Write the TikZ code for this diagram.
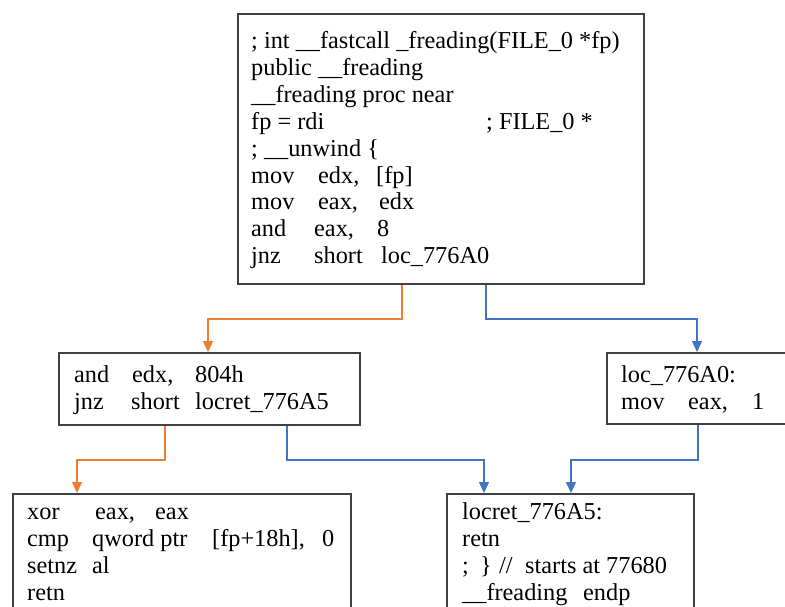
\documentclass[tikz,border=0pt]{standalone}
\usepackage{fontspec}
\setmainfont{Liberation Serif}
\usetikzlibrary{arrows.meta,calc}

\definecolor{boxline}{HTML}{404040}
\definecolor{brorange}{HTML}{ED7D31}
\definecolor{brblue}{HTML}{4472C4}

% a left-aligned column of fixed width inside one code line
\newcommand\cw[2]{\makebox[#1pt][l]{#2}}

\tikzset{
  x=1pt, y=-1pt,
  block/.style={draw=boxline, line width=1.8pt, anchor=north west, inner sep=0pt},
  code/.style={anchor=base west, inner sep=0pt, font=\fontsize{24.3}{26.8}\selectfont},
  flowline/.style={line width=1.4pt, -{Triangle[width=10pt,length=11pt]}},
  taken/.style={flowline, draw=brblue},
  fall/.style={flowline, draw=brorange},
}

\begin{document}
\begin{tikzpicture}
\useasboundingbox[fill=white] (0,0) rectangle (785,607);

% ---- basic blocks ----
\node[block, minimum width=406pt, minimum height=270pt] (top) at (237,13) {};
\node[block, minimum width=301pt, minimum height=72pt]  (left) at (58,352) {};
\node[block, minimum width=190pt, minimum height=71pt]  (right) at (606,352) {};
\node[block, minimum width=338pt, minimum height=130pt] (ret0) at (12,493) {};
\node[block, minimum width=247pt, minimum height=130pt] (ret) at (446,493) {};

% ---- code of the entry block ----
\node[code] (t1) at (251,49)    {; int \_\_fastcall \_freading(FILE\_0 *fp)};
\node[code] (t2) at (251,75.8)  {public \_\_freading};
\node[code] (t3) at (251,102.6) {\_\_freading proc near};
\node[code] (t4) at (251,129.4) {\cw{235}{fp = rdi}; FILE\_0 *};
\node[code] (t5) at (251,156.2) {; \_\_unwind \{};
\node[code] (t6) at (251,183)   {\cw{67}{mov}\cw{58}{edx,}[fp]};
\node[code] (t7) at (251,209.8) {\cw{67}{mov}\cw{61}{eax,}edx};
\node[code] (t8) at (251,236.6) {\cw{63}{and}\cw{63}{eax,}8};
\node[code] (t9) at (251,263.4) {\cw{63}{jnz}\cw{67}{short}loc\_776A0};

% ---- second-level blocks ----
\node[code] (l1) at (74,382) {\cw{58}{and}\cw{63}{edx,}804h};
\node[code] (l2) at (74,409) {\cw{57}{jnz}\cw{64}{short}locret\_776A5};

\node[code] (r1) at (621,382) {loc\_776A0:};
\node[code] (r2) at (621,409) {\cw{67}{mov}\cw{64}{eax,}1};

% ---- return blocks ----
\node[code] (b1) at (27,519) {\cw{68}{xor}\cw{60}{eax,}eax};
\node[code] (b2) at (27,546) {\cw{65}{cmp}\cw{120}{qword ptr}\cw{110}{[fp+18h],}0};
\node[code] (b3) at (27,573) {\cw{65}{setnz}al};
\node[code] (b4) at (27,600) {retn};

\node[code] (c1) at (462,519) {locret\_776A5:};
\node[code] (c2) at (462,546) {retn};
\node[code] (c3) at (462,573) {\cw{18}{;}\cw{19}{\}}\cw{26}{//}starts at 77680};
\node[code] (c4) at (462,600) {\cw{121}{\_\_freading}endp};

% ---- control-flow edges ----
\draw[fall]  ([xshift=165pt]top.south west) -- ++(0,34) -| ([xshift=150pt]left.north west);
\draw[taken] ([xshift=249pt]top.south west) -- ++(0,34) -| ([xshift=91pt]right.north west);

\draw[fall]  ([xshift=107pt]left.south west) -- ++(0,34) -| ([xshift=65pt]ret0.north west);
\draw[taken] ([xshift=229pt]left.south west) -- ++(0,34) -| ([xshift=38pt]ret.north west);
\draw[taken] ([xshift=92pt]right.south west) -- ++(0,35) -| ([xshift=125pt]ret.north west);
\end{tikzpicture}
\end{document}
